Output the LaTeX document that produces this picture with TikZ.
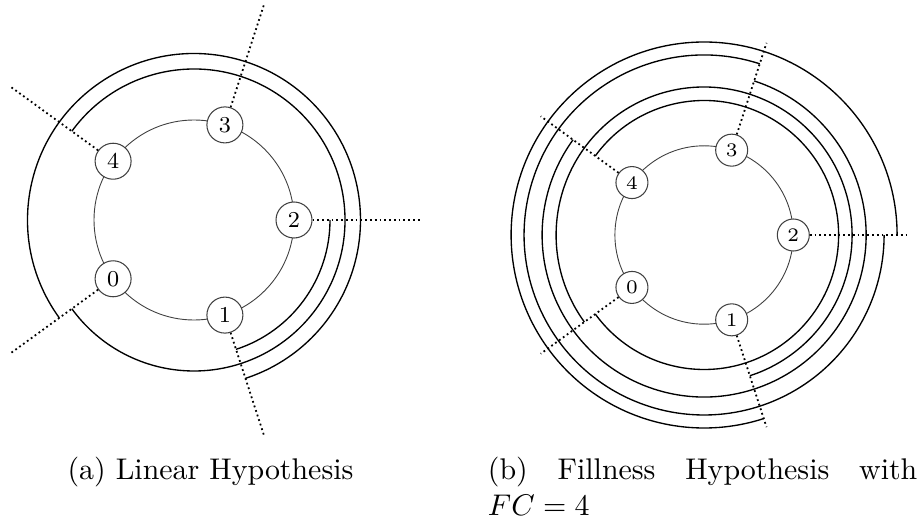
\documentclass[tikz,border=0pt]{standalone}
\usetikzlibrary{calc}
\begin{document}
\begin{tikzpicture}[x=0.3344pt,y=0.3344pt,
  ring/.style={line width=0.3pt, draw=black!75},
  lnode/.style={circle, draw=black!75, line width=0.35pt, fill=white, inner sep=0pt, minimum size=12.04pt, font=\fontsize{7.6}{9}\selectfont},
  rnode/.style={circle, draw=black!75, line width=0.35pt, fill=white, inner sep=0pt, minimum size=10.7pt, font=\fontsize{6.4}{8}\selectfont},
  sep/.style={line width=0.6pt, densely dotted},
  band/.style={line width=0.45pt, black}]
\useasboundingbox (0,0) rectangle (922,521);
% ---------- (a) ----------
\coordinate (Lc) at (194,301);
\draw[ring] (Lc) circle[radius=100];
\foreach \i/\a in {2/0,3/72,4/144,0/216,1/288}{
  \node[lnode] (L\i) at ($(Lc)+(\a:100)$) {\i};
  \coordinate (Le\i) at ($(Lc)+(\a:227)$);
  \draw[sep] (L\i) -- (Le\i);
}
\draw[band] ($(Lc)+(0:136)$) arc[start angle=0, end angle=-72, radius=136];
\draw[band] ($(Lc)+(144:151)$) arc[start angle=144, end angle=-144, radius=151];
\draw[band] ($(Lc)+(216:166.5)$) arc[start angle=216, end angle=-72, radius=166.5];
\node[anchor=base] (capa) at (210.5,42) {(a) Linear Hypothesis};
% ---------- (b) ----------
\coordinate (Rc) at (704.1,286);
\draw[ring] (Rc) circle[radius=89.2];
\foreach \i/\a in {2/0,3/72,4/144,0/216,1/288}{
  \node[rnode] (R\i) at ($(Rc)+(\a:89.2)$) {\i};
  \coordinate (Re\i) at ($(Rc)+(\a:202)$);
  \draw[sep] (R\i) -- (Re\i);
}
\draw[band] ($(Rc)+(144:134.5)$) arc[start angle=144, end angle=-144, radius=134.5];
\draw[band] ($(Rc)+(216:148)$) arc[start angle=216, end angle=-72, radius=148];
\draw[band] ($(Rc)+(72:162)$) arc[start angle=72, end angle=-216, radius=162];
\draw[band] ($(Rc)+(72:180)$) arc[start angle=72, end angle=360, radius=180];
\draw[band] ($(Rc)+(0:193)$) arc[start angle=0, end angle=288, radius=193];
\node[anchor=base west, inner sep=0pt] (capb1) at (487.3,42) {\makebox[143.6pt][s]{(b) Fillness Hypothesis with}};
\node[anchor=base west, inner sep=0pt] (capb2) at (487.3,6) {$FC = 4$};
\end{tikzpicture}
\end{document}
